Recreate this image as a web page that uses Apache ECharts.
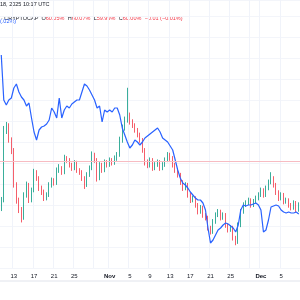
<!DOCTYPE html>
<html><head><meta charset="utf-8">
<script src="https://cdn.jsdelivr.net/npm/echarts@6/dist/echarts.min.js"></script>
<style>html,body{margin:0;padding:0;background:#fff}#c{width:300px;height:300px}</style>
</head><body><div id="c"></div>
<script>
// 12-hour candles starting 2025-10-10 12:00 UTC
const startTime = Date.UTC(2025, 9, 10, 12);
const candleCount = 119;
const closes = [
59.41,60.46,60.53,60.31,60.16,59.64,59.41,59.27,59.15,59.49,
59.64,59.41,59.56,59.83,59.74,59.59,59.53,59.44,59.49,59.64,
59.71,59.67,59.86,59.89,59.83,60.04,60.01,59.94,59.89,59.97,
59.86,59.83,59.74,59.64,59.79,59.89,60.09,60.01,59.74,59.94,
59.86,59.98,59.94,60.01,59.97,60.04,60.09,60.31,60.49,60.61,
60.68,60.58,60.53,60.46,60.39,60.31,60.16,59.98,59.94,60.01,
59.89,59.94,59.98,59.89,59.94,60.01,60.09,60.04,59.94,59.86,
59.79,59.68,59.59,59.64,59.49,59.41,59.44,59.34,59.24,59.30,
59.19,59.15,59.00,58.94,59.09,59.19,59.24,59.15,59.19,59.04,
58.97,59.00,58.85,58.79,59.04,59.24,59.34,59.37,59.41,59.34,
59.39,59.44,59.49,59.56,59.49,59.59,59.68,59.74,59.64,59.53,
59.44,59.49,59.39,59.41,59.34,59.30,59.37,59.27,59.34];
const firstOpen = 59.30;
const highs = [
59.46,60.52,60.58,60.56,60.35,60.19,59.68,59.45,59.31,59.53,
59.69,59.67,59.60,59.88,59.86,59.77,59.63,59.57,59.53,59.68,
59.75,59.74,59.90,59.95,59.92,60.09,60.07,60.04,59.97,60.01,
60.00,59.89,59.86,59.77,59.83,59.93,60.14,60.12,60.04,59.98,
59.97,60.02,60.01,60.05,60.04,60.08,60.13,60.36,60.54,60.66,
61.09,60.72,60.62,60.56,60.49,60.42,60.34,60.19,60.02,60.05,
60.04,59.98,60.02,60.01,59.98,60.05,60.13,60.12,60.07,59.97,
59.89,59.82,59.71,59.68,59.67,59.52,59.48,59.47,59.37,59.34,
59.33,59.22,59.18,59.03,59.13,59.23,59.28,59.27,59.23,59.22,
59.07,59.04,59.03,58.88,59.08,59.28,59.38,59.41,59.45,59.44,
59.43,59.48,59.53,59.60,59.59,59.63,59.72,59.83,59.77,59.67,
59.56,59.53,59.52,59.45,59.44,59.37,59.41,59.40,59.38];
const lows = [
59.25,59.38,60.40,60.27,60.10,59.60,59.36,59.22,59.08,59.12,
59.45,59.37,59.38,59.53,59.70,59.55,59.49,59.40,59.41,59.46,
59.60,59.63,59.64,59.82,59.79,59.80,59.97,59.90,59.85,59.86,
59.82,59.79,59.70,59.58,59.61,59.76,59.86,59.97,59.69,59.71,
59.82,59.83,59.90,59.91,59.93,59.94,60.00,60.06,60.27,60.45,
60.57,60.54,60.49,60.42,60.35,60.27,60.12,59.93,59.89,59.90,
59.85,59.86,59.91,59.85,59.86,59.91,59.98,60.00,59.90,59.82,
59.75,59.64,59.55,59.56,59.45,59.37,59.38,59.30,59.20,59.21,
59.15,59.11,58.96,58.90,58.91,59.06,59.16,59.11,59.12,59.00,
58.93,58.94,58.81,58.74,58.76,59.01,59.21,59.31,59.34,59.30,
59.31,59.36,59.41,59.46,59.45,59.46,59.56,59.65,59.60,59.49,
59.40,59.41,59.35,59.36,59.30,59.26,59.27,59.23,59.24];
const blueLine = [
11.45,11.00,10.95,11.00,11.02,11.12,11.16,11.08,11.03,11.00,
10.94,10.97,10.82,10.68,10.60,10.70,10.73,10.74,10.76,10.80,
10.92,10.88,10.82,11.02,10.82,10.90,10.94,10.92,10.96,10.98,
11.00,11.00,11.08,11.16,11.14,11.10,11.05,11.00,10.92,10.94,
10.78,10.90,10.88,10.90,10.88,10.92,10.92,10.85,10.72,10.65,
10.58,10.52,10.55,10.60,10.58,10.55,10.58,10.62,10.64,10.66,
10.68,10.70,10.72,10.68,10.62,10.60,10.58,10.54,10.50,10.40,
10.30,10.22,10.17,10.15,10.12,10.08,10.05,10.02,10.00,10.00,
9.97,9.90,9.72,9.57,9.60,9.65,9.70,9.72,9.75,9.77,
9.76,9.74,9.72,9.68,9.75,9.90,9.95,9.94,9.95,9.95,
9.96,9.97,9.95,9.90,9.68,9.70,9.80,9.93,9.94,9.95,
9.94,9.90,9.88,9.87,9.88,9.87,9.87,9.88,9.86];
const priceLine = 60.00;
const tickDates = ['2025-10-13','2025-10-17','2025-10-21','2025-10-25','2025-10-29','2025-11-01','2025-11-05','2025-11-09','2025-11-13','2025-11-17','2025-11-21','2025-11-25','2025-11-29','2025-12-01','2025-12-05'];
const tickLabels = ['13','17','21','25','','Nov','5','9','13','17','21','25','','Dec','5'];
const monthLabels = ['Nov','Dec'];
const headerTime = '18, 2025 10:17 UTC';
const headerSymbol = 'CRYPTOCAP';
const ohlc = {O:'60.05%',H:'60.07%',L:'59.99%',C:'60.00%',chg:'−0.01 (−0.01%)'};
const blueText = '(.02%)';

const categories = [];
for (let i = 0; i < candleCount; i++) {
  categories.push(new Date(startTime + i * 12 * 3600 * 1000).toISOString().slice(0, 13));
}
const tickMap = {};
tickDates.forEach((d, k) => { tickMap[d + 'T00'] = tickLabels[k]; });
const candleData = closes.map((c, i) => {
  const o = i === 0 ? firstOpen : closes[i - 1];
  return [o, c, lows[i], highs[i]];
});

const chart = echarts.init(document.getElementById('c'), null, {renderer: 'canvas'});
const font = 'Liberation Sans';
chart.setOption({
  animation: false,
  backgroundColor: '#ffffff',
  grid: {left: 0, right: 0, top: 0, bottom: 32},
  xAxis: {
    type: 'category', data: categories, boundaryGap: true,
    axisLine: {show: false}, axisTick: {show: false},
    axisLabel: {
      interval: (idx, val) => val in tickMap && tickMap[val] !== '',
      formatter: v => {
        const t = tickMap[v] || '';
        return monthLabels.indexOf(t) >= 0 ? '{b|' + t + '}' : t;
      },
      margin: 5, fontSize: 6, fontFamily: font, color: '#131722',
      rich: {b: {fontWeight: 'bold', fontSize: 6, fontFamily: font, color: '#131722'}}
    },
    splitLine: {show: true, interval: (idx, val) => val in tickMap, lineStyle: {color: '#f0f3fa', width: 1}}
  },
  yAxis: [
    {type: 'value', min: 58.4, max: 62.4, show: false, splitLine: {show: false}},
    {type: 'value', min: 9.32, max: 12.0, show: false, splitLine: {show: false}},
    {type: 'value', min: 0, max: 268, interval: 21, show: true, axisLabel: {show: false}, axisLine: {show: false}, axisTick: {show: false},
     splitLine: {show: true, lineStyle: {color: '#f3f5fa', width: 1}}}
  ],
  series: [
    {
      type: 'candlestick', data: candleData, yAxisIndex: 0, barMaxWidth: 1.6,
      itemStyle: {color: '#089981', color0: '#f23645', borderColor: '#089981', borderColor0: '#f23645', borderWidth: 0.8},
      markLine: {silent: true, symbol: 'none', label: {show: false},
        lineStyle: {color: '#f7bcc2', width: 1, type: 'solid'}, data: [{yAxis: priceLine}]}
    },
    {
      type: 'line', data: blueLine, yAxisIndex: 1, showSymbol: false, symbol: 'none',
      lineStyle: {color: '#2962ff', width: 1.2}, z: 3
    }
  ],
  graphic: [
    {type: 'line', shape: {x1: 0, y1: 281, x2: 300, y2: 281}, style: {stroke: '#e0e3eb', lineWidth: 1}},
    {type: 'text', left: 0, top: 1, style: {text: headerTime, font: '5.5px ' + font, fill: '#131722'}},
    {type: 'text', left: 1, top: 12, style: {
      text: '{d|· ' + headerSymbol + '  O}{r|' + ohlc.O + '} {d|H}{r|' + ohlc.H + '} {d|L}{r|' + ohlc.L + '} {d|C}{r|' + ohlc.C + '} {r|' + ohlc.chg + '}',
      rich: {d: {fontSize: 5.5, fontFamily: font, fill: '#131722'}, r: {fontSize: 5.5, fontFamily: font, fill: '#f23645'}}
    }},
    {type: 'text', left: 0, top: 18, style: {text: blueText, font: '5.5px ' + font, fill: '#2962ff'}}
  ]
});
</script></body></html>
